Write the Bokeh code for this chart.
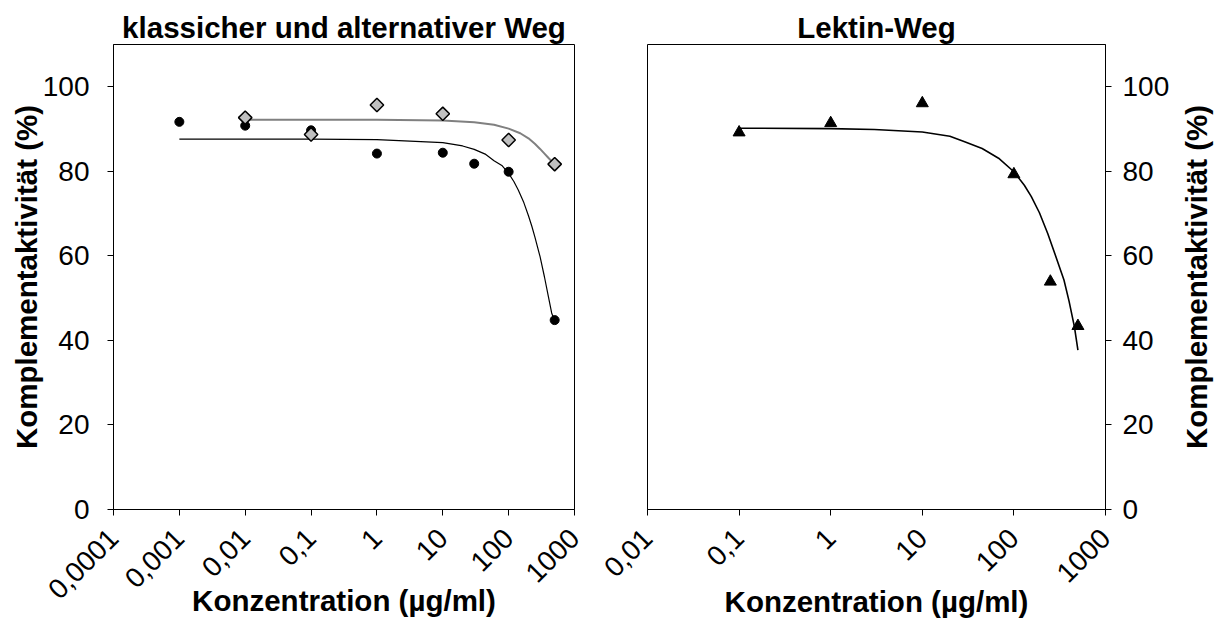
import math
from bokeh.plotting import figure
from bokeh.layouts import row
from bokeh.models import Range1d, FixedTicker, CustomJSTickFormatter
from bokeh.core.properties import value
from bokeh.embed import file_html
from bokeh.resources import INLINE

# ---------------- data ----------------
klass_x = [0.001, 0.01, 0.1, 1, 10, 30, 100, 500]
klass_y = [91.7, 90.8, 89.7, 84.2, 84.4, 81.8, 79.9, 44.8]

alt_x = [0.01, 0.1, 1, 10, 100, 500]
alt_y = [92.7, 88.7, 95.7, 93.6, 87.4, 81.7]

lek_x = [0.1, 1, 10, 100, 250, 500]
lek_y = [89.2, 91.4, 96.1, 79.3, 53.9, 43.4]

# fitted curves
klass_fit_x = [0.001, 0.01, 0.1, 1, 10, 20, 30, 45, 60, 80, 100, 120, 140, 170,
               200, 225, 250, 300, 350, 400, 450, 500]
klass_fit_y = [87.6, 87.6, 87.6, 87.5, 86.8, 86.0, 85.2, 84.0, 82.5, 81.3, 79.5, 77.6,
               75.6, 72.6, 69.5, 67.0, 64.5, 59.8, 55.0, 50.5, 46.5, 44.5]

alt_fit_x = [0.01, 0.1, 1, 10, 30, 60, 100, 150, 200, 250, 300, 350, 400, 450, 500]
alt_fit_y = [92.2, 92.2, 92.2, 92.0, 91.6, 91.0, 90.1, 89.0, 87.8, 86.5, 85.3, 84.2, 83.2, 82.4, 81.6]

lek_fit_x = [0.1, 1, 3, 10, 20, 29, 45, 68, 100, 130, 155, 190, 234, 280, 352, 400, 458, 500]
lek_fit_y = [90.2, 90.1, 89.9, 89.3, 88.3, 87.0, 85.4, 83.1, 79.9, 76.7, 74.0, 70.2,
             65.3, 60.5, 54.3, 49.3, 43.2, 37.7]

left_ticks = [0.0001, 0.001, 0.01, 0.1, 1, 10, 100, 1000]
left_tick_labels = ["0,0001", "0,001", "0,01", "0,1", "1", "10", "100", "1000"]
right_ticks = [0.01, 0.1, 1, 10, 100, 1000]
right_tick_labels = ["0,01", "0,1", "1", "10", "100", "1000"]
y_ticks = [0, 20, 40, 60, 80, 100]

title_left = "klassicher und alternativer Weg"
title_right = "Lektin-Weg"
x_label = "Konzentration (µg/ml)"
y_label = "Komplementaktivität (%)"

FONT = "Liberation Sans"
BOLD_SIZE = "29.5px"
TICK_SIZE = "28px"

FMT_CODE = """
for (let i = 0; i < vals.length; i++) {
  if (Math.abs(Math.log10(vals[i]) - Math.log10(tick)) < 1e-6) return labels[i];
}
return "";
"""


def style(p, ticks, labels, y_label_standoff, x_label_standoff, title):
    p.xaxis.ticker = FixedTicker(ticks=ticks)
    p.xaxis.formatter = CustomJSTickFormatter(args=dict(vals=ticks, labels=labels), code=FMT_CODE)
    p.xaxis.major_label_orientation = math.pi / 4
    p.xaxis.major_label_standoff = 18
    p.yaxis.ticker = FixedTicker(ticks=y_ticks)
    p.yaxis.major_label_standoff = y_label_standoff
    p.xaxis.axis_label = x_label
    p.xaxis.axis_label_standoff = x_label_standoff
    for ax in (p.xaxis, p.yaxis):
        ax.axis_line_color = "black"
        ax.axis_line_width = 1
        ax.major_tick_line_color = "black"
        ax.major_tick_out = 6
        ax.major_tick_in = 0
        ax.minor_tick_line_color = None
        ax.major_label_text_font = FONT
        ax.major_label_text_font_size = TICK_SIZE
        ax.major_label_text_color = "black"
        ax.axis_label_text_font = FONT
        ax.axis_label_text_font_size = BOLD_SIZE
        ax.axis_label_text_font_style = "bold"
        ax.axis_label_text_color = "black"
    p.xgrid.grid_line_color = None
    p.ygrid.grid_line_color = None
    p.outline_line_color = "black"
    p.outline_line_width = 1
    p.background_fill_color = "white"
    p.border_fill_color = "white"
    p.title.text = title
    p.title.align = "center"
    p.title.text_font = FONT
    p.title.text_font_size = BOLD_SIZE
    p.title.text_font_style = "bold"
    p.title.text_color = "black"
    p.title.standoff = 2
    p.title.offset = 0


# ---------------- left chart ----------------
p1 = figure(width=590, height=620, x_axis_type="log",
            x_range=Range1d(1e-4, 1e3), y_range=Range1d(0, 110),
            min_border_left=113, min_border_right=16, min_border_top=44, min_border_bottom=111,
            output_backend="svg", toolbar_location=None)
style(p1, left_ticks, left_tick_labels, 18, -26, title_left)
p1.yaxis.axis_label = y_label
p1.yaxis.axis_label_standoff = -3

p1.line(klass_fit_x, klass_fit_y, line_color="black", line_width=1.2)
p1.line(alt_fit_x, alt_fit_y, line_color="#808080", line_width=2)
p1.scatter(klass_x, klass_y, marker="circle", size=9, fill_color="black", line_color="black")
p1.scatter(alt_x, alt_y, marker="square", angle=math.pi / 4, size=9.5,
           fill_color="#c0c0c0", line_color="black", line_width=1.5)

# ---------------- right chart ----------------
p2 = figure(width=582, height=620, x_axis_type="log", y_axis_location="right",
            x_range=Range1d(1e-2, 1e3), y_range=Range1d(0, 110),
            min_border_left=57, min_border_right=64, min_border_top=44, min_border_bottom=111,
            output_backend="svg", toolbar_location=None)
style(p2, right_ticks, right_tick_labels, 11, -9, title_right)

p2.line(lek_fit_x, lek_fit_y, line_color="black", line_width=1.6)
p2.scatter(lek_x, lek_y, marker="triangle", size=12, fill_color="black", line_color="black")

# ---------------- right y-axis title (reads bottom to top, as in the reference) ----------------
p3 = figure(width=46, height=620, x_range=Range1d(0, 1), y_range=Range1d(0, 110),
            x_axis_location=None, y_axis_location=None,
            min_border_left=0, min_border_right=0, min_border_top=44, min_border_bottom=111,
            output_backend="svg", toolbar_location=None)
p3.xgrid.grid_line_color = None
p3.ygrid.grid_line_color = None
p3.outline_line_color = None
p3.background_fill_color = "white"
p3.border_fill_color = "white"
p3.text(x=[0.52], y=[55], text=[y_label], angle=math.pi / 2,
        text_align="center", text_baseline="middle",
        text_font=value(FONT), text_font_style="bold", text_font_size=BOLD_SIZE,
        text_color="black")

layout = row(p1, p2, p3)
open("out.html", "w").write(file_html(layout, INLINE))
